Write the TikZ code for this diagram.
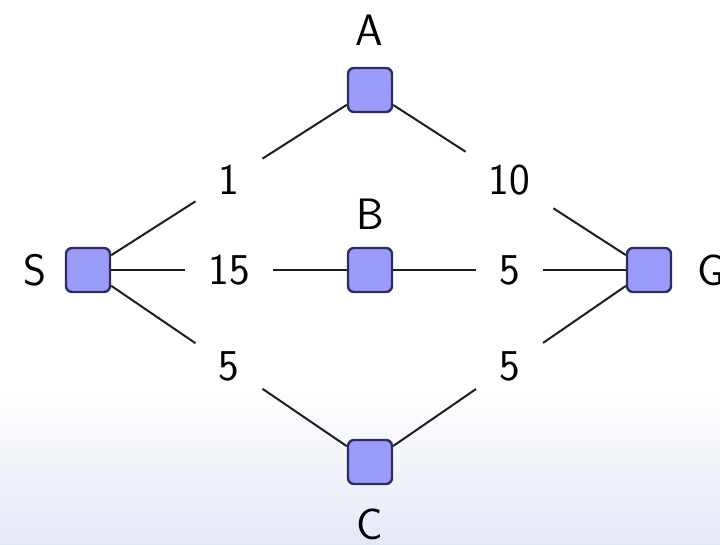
\documentclass[tikz,border=0pt]{standalone}
\usetikzlibrary{calc}
\definecolor{boxfill}{RGB}{155,155,250}
\definecolor{boxdraw}{RGB}{45,45,95}
\definecolor{bgblue}{RGB}{228,233,246}
\definecolor{edgecol}{RGB}{30,30,30}
\begin{document}
\begin{tikzpicture}[x=1pt,y=-1pt,
  font=\fontsize{44}{52}\selectfont\sffamily,
  vbox/.style={rectangle, rounded corners=6pt, minimum width=44pt, minimum height=44pt,
    inner sep=0pt, fill=boxfill, draw=boxdraw, line width=2.4pt},
  vname/.style={inner sep=0pt, anchor=center},
  conn/.style={draw=edgecol, line width=2pt},
  elab/.style={inner sep=23pt}]
\useasboundingbox (0,0) rectangle (720,545);
\fill[white] (0,0) rectangle (720,385);
\shade[top color=white, bottom color=bgblue] (0,385) rectangle (720,545);
\node[vbox] (S) at (88,270) {};
\node[vbox] (A) at (370,90) {};
\node[vbox] (B) at (370,270) {};
\node[vbox] (C) at (370,462) {};
\node[vbox] (G) at (649,270) {};
\node[vname] (Sl) at (35,270) {S};
\node[vname] (Al) at (369,30) {A};
\node[vname] (Bl) at (370,214) {B};
\node[vname] (Cl) at (370,524) {C};
\node[vname] (Gl) at (711,270) {G};
\node[elab] (e1) at ($(S)!0.5!(A)$) {1};
\node[elab] (e2) at ($(A)!0.5!(G)$) {10};
\node[elab] (e3) at ($(S)!0.5!(B)$) {15};
\node[elab] (e4) at ($(B)!0.5!(G)$) {5};
\node[elab] (e5) at ($(S)!0.5!(C)$) {5};
\node[elab] (e6) at ($(C)!0.5!(G)$) {5};
\path[conn] (S) -- (e1) (e1) -- (A);
\path[conn] (A) -- (e2) (e2) -- (G);
\path[conn] (S) -- (e3) (e3) -- (B);
\path[conn] (B) -- (e4) (e4) -- (G);
\path[conn] (S) -- (e5) (e5) -- (C);
\path[conn] (C) -- (e6) (e6) -- (G);
\end{tikzpicture}
\end{document}
